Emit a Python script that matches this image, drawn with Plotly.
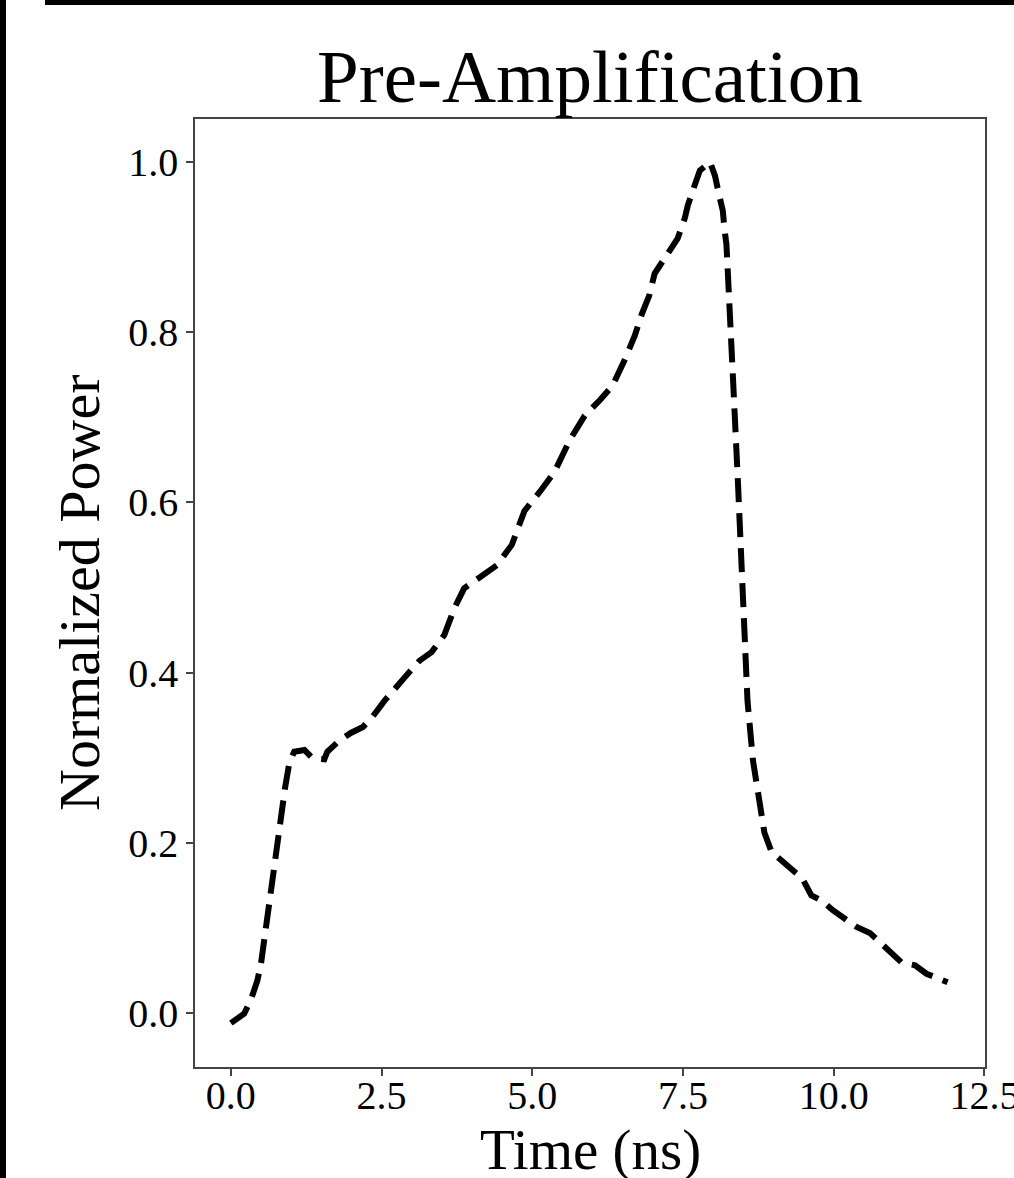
import plotly.graph_objects as go

# Data
time_ns = [0.00, 0.22, 0.33, 0.44, 0.50, 0.57, 0.66, 0.75, 0.83, 0.90, 0.97, 1.05, 1.22, 1.36, 1.55, 1.60,
           1.80, 1.99, 2.19, 2.35, 2.55, 2.71, 2.88, 3.13, 3.33, 3.54, 3.71, 3.87, 4.12, 4.41, 4.66, 4.87,
           5.12, 5.37, 5.62, 5.87, 6.12, 6.33, 6.53, 6.70, 6.82, 6.94, 7.03, 7.16, 7.31, 7.41, 7.53, 7.58,
           7.69, 7.78, 7.95, 8.03, 8.11, 8.16, 8.19, 8.22, 8.24, 8.27, 8.29, 8.33, 8.41, 8.49, 8.57, 8.66,
           8.77, 8.80, 8.85, 8.97, 9.13, 9.32, 9.48, 9.63, 9.80, 9.98, 10.18, 10.38, 10.60, 10.79, 10.96,
           11.13, 11.35, 11.54, 11.89]
power = [-0.012, -0.001, 0.015, 0.038, 0.058, 0.094, 0.141, 0.188, 0.235, 0.265, 0.294, 0.307, 0.309, 0.299,
         0.298, 0.307, 0.320, 0.329, 0.336, 0.348, 0.367, 0.381, 0.394, 0.414, 0.424, 0.444, 0.476, 0.499,
         0.511, 0.526, 0.550, 0.590, 0.612, 0.636, 0.673, 0.702, 0.720, 0.737, 0.767, 0.796, 0.822, 0.843,
         0.869, 0.882, 0.899, 0.910, 0.934, 0.949, 0.972, 0.990, 1.000, 0.984, 0.958, 0.943, 0.920, 0.904,
         0.876, 0.838, 0.818, 0.745, 0.626, 0.485, 0.367, 0.297, 0.250, 0.229, 0.212, 0.189, 0.179, 0.168,
         0.158, 0.138, 0.132, 0.121, 0.111, 0.101, 0.094, 0.082, 0.072, 0.059, 0.056, 0.046, 0.036]

x_ticks = [0.0, 2.5, 5.0, 7.5, 10.0, 12.5]
x_tick_labels = ["0.0", "2.5", "5.0", "7.5", "10.0", "12.5"]
y_ticks = [0.0, 0.2, 0.4, 0.6, 0.8, 1.0]
y_tick_labels = ["0.0", "0.2", "0.4", "0.6", "0.8", "1.0"]

title_text = "Pre-Amplification"
x_title = "Time (ns)"
y_title = "Normalized Power"

W, H = 1014, 1178
L, R, T, B = 195, 985, 119, 1067  # plot area in pixels
FONT = "Liberation Serif, Times New Roman, serif"


def px_x(p):
    return (p - L) / (R - L)


def px_y(p):
    return (B - p) / (B - T)


fig = go.Figure()
fig.add_trace(go.Scatter(
    x=time_ns, y=power, mode="lines",
    line=dict(color="black", width=6, dash="24px,11px"),
    showlegend=False, hoverinfo="skip",
))

axis_common = dict(
    showline=True, mirror=True, linecolor="#444", linewidth=1.5,
    ticks="outside", ticklen=7, tickwidth=1.5, tickcolor="#444",
    showgrid=False, zeroline=False,
    tickfont=dict(family=FONT, size=40, color="black"),
)

fig.update_layout(
    width=W, height=H,
    margin=dict(l=L, r=W - R, t=T, b=H - B, autoexpand=False),
    paper_bgcolor="white", plot_bgcolor="white",
    xaxis=dict(range=[-0.595, 12.51], tickvals=x_ticks, ticktext=x_tick_labels,
               ticklabelstandoff=-15, ticklabeloverflow="allow", **axis_common),
    yaxis=dict(range=[-0.0636, 1.0506], tickvals=y_ticks, ticktext=y_tick_labels, **axis_common),
    annotations=[
        dict(text=title_text, xref="paper", yref="paper", x=0.5, y=px_y(77),
             xanchor="center", yanchor="middle", showarrow=False,
             font=dict(family=FONT, size=75, color="black")),
        dict(text=x_title, xref="paper", yref="paper", x=0.5, y=px_y(1150),
             xanchor="center", yanchor="middle", showarrow=False,
             font=dict(family=FONT, size=57, color="black")),
        dict(text=y_title, xref="paper", yref="paper", x=px_x(79), y=px_y(593),
             xanchor="center", yanchor="middle", showarrow=False, textangle=-90,
             font=dict(family=FONT, size=58, color="black")),
    ],
    shapes=[
        dict(type="rect", xref="paper", yref="paper", x0=px_x(0), x1=px_x(6), y0=px_y(H), y1=px_y(0),
             fillcolor="black", line=dict(width=0), layer="above"),
        dict(type="rect", xref="paper", yref="paper", x0=px_x(45), x1=px_x(W), y0=px_y(5), y1=px_y(0),
             fillcolor="black", line=dict(width=0), layer="above"),
    ],
)

fig.write_html("out.html", config={"displayModeBar": False},
               post_script="document.body.style.margin='0';document.body.style.overflow='hidden';")
